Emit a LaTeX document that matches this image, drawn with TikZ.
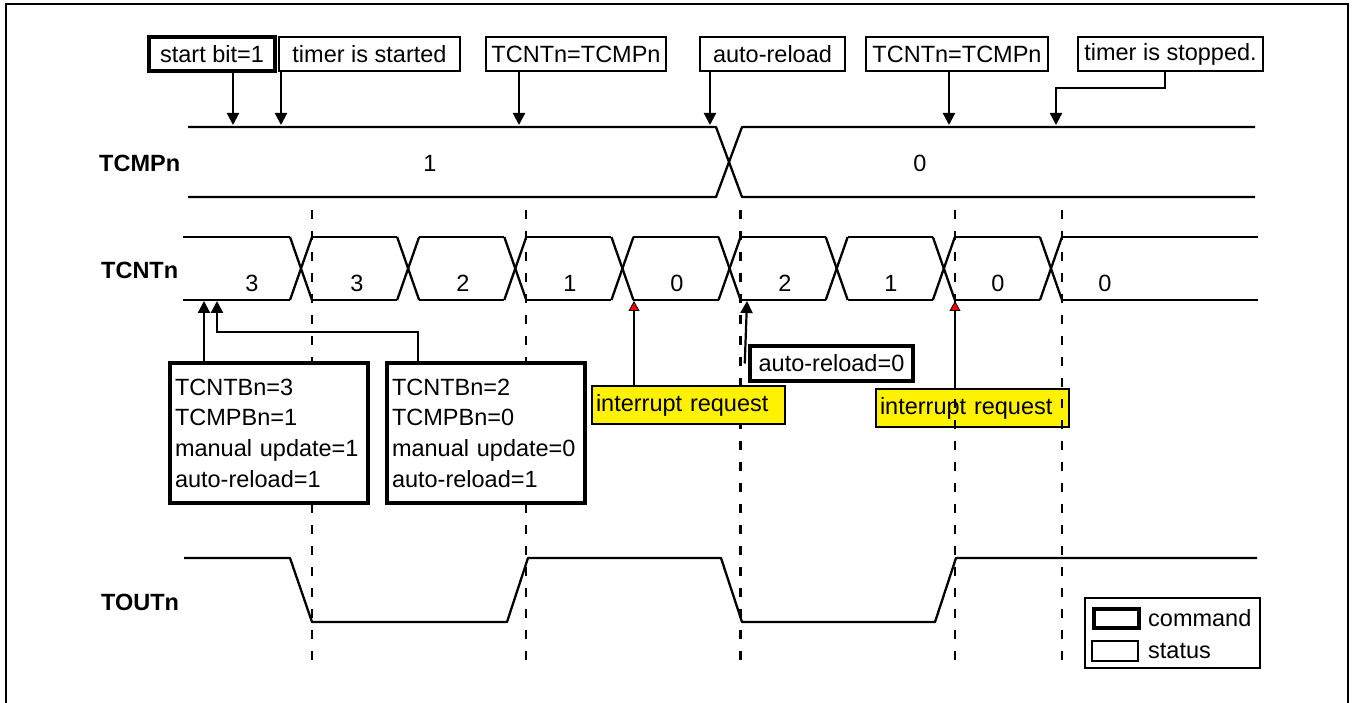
\documentclass[tikz,border=0pt]{standalone}
\usepackage{fontspec}
\setmainfont{Liberation Sans}
\usetikzlibrary{arrows.meta}
\begin{document}
\begin{tikzpicture}[x=1pt,y=-1pt,
  every node/.style={font=\fontsize{23.5}{30.7}\selectfont, inner sep=0pt},
  wave/.style={line width=2.3pt, line join=round},
  dsh/.style={line width=2.4pt, dash pattern=on 9pt off 12pt},
  cmdbox/.style={draw, line width=4.5pt, fill=white},
  statbox/.style={draw, line width=2pt, fill=white},
  irqbox/.style={draw, line width=2pt, fill=yellow},
  arr/.style={line width=2.2pt, -{Triangle[length=12pt,width=12pt]}},
  redarr/.style={line width=2.2pt, -{Triangle[length=10pt,width=11pt,line width=0.8pt,fill=red]}},
  lbl/.style={font=\fontsize{23.5}{28}\selectfont\bfseries, anchor=west}]
\useasboundingbox (0,0) rectangle (1355,703);
\draw[line width=2.4pt] (6,703) -- (6,4) -- (1348,4) -- (1348,703);

% ---- signal labels
\node[lbl] (lcmp) at (99,163) {TCMPn};
\node[lbl] (lcnt) at (101,270) {TCNTn};
\node[lbl] (lout) at (101,602) {TOUTn};

% ---- TCMPn
\draw[wave] (188,127) -- (716,127) -- (742,197) -- (1255,197);
\draw[wave] (188,197) -- (716,197) -- (742,127) -- (1255,127);
\node (m1) at (430,163) {1};
\node (m0) at (920,163) {0};

% ---- TCNTn
\foreach \k in {0,...,7} {
  \pgfmathsetmacro\c{301+107.14*\k}
  \draw[wave] (\c-11,237) -- (\c+11,300);
  \draw[wave] (\c-11,300) -- (\c+11,237);
}
\draw[wave] (183,237) -- (290,237) (183,300) -- (290,300);
\foreach \k in {0,...,6} {
  \pgfmathsetmacro\a{301+107.14*\k+11}
  \pgfmathsetmacro\b{301+107.14*(\k+1)-11}
  \draw[wave] (\a,237) -- (\b,237) (\a,300) -- (\b,300);
}
\draw[wave] (1062,237) -- (1258,237) (1062,300) -- (1258,300);
\foreach \x/\v [count=\i] in {252/3,357/3,463/2,570/1,677/0,785/2,891/1,998/0,1105/0}
  \node (v\i) at (\x,283) {\v};

% ---- TOUTn
\draw[wave] (184,558) -- (290,558) -- (312,622) -- (507,622) -- (528,558)
  -- (721,558) -- (742,622) -- (935,622) -- (956,558) -- (1257,558);

% ---- yellow box drawn below the guide lines
\node[irqbox, minimum width=193pt, minimum height=38pt, text width=185pt, inner xsep=4pt, align=left] (ir2) at (972.5,408) {interrupt request};

% ---- dashed guide lines
\foreach \k in {0,2,4,6,7}
  \draw[dsh] (301+107.14*\k+11,210) -- (301+107.14*\k+11,668);

\node[irqbox, minimum width=193pt, minimum height=38pt, text width=185pt, inner xsep=4pt, align=left] (ir1) at (688.5,405) {interrupt request};

% ---- top boxes
\node[cmdbox, minimum width=126pt, minimum height=34pt] (sb) at (212,54) {start bit=1};
\node[statbox, minimum width=181pt, minimum height=34pt] (ts) at (369.5,54) {timer is started};
\node[statbox, minimum width=180pt, minimum height=34pt] (eq1) at (576,54) {TCNTn=TCMPn};
\node[statbox, minimum width=145pt, minimum height=34pt] (ar) at (772.5,54) {auto-reload};
\node[statbox, minimum width=182pt, minimum height=34pt] (eq2) at (957,54) {TCNTn=TCMPn};
\node[statbox, minimum width=185pt, minimum height=34pt] (tst) at (1170.5,54) {timer is stopped.};

\coordinate (a1) at (233,125);
\coordinate (a2) at (281,125);
\coordinate (a3) at (519,125);
\coordinate (a4) at (710,125);
\coordinate (a5) at (949,125);
\coordinate (a6) at (1056,125);
\coordinate (e6) at (1165,88);
\draw[arr] (sb.south -| a1) -- (a1);
\draw[arr] (ts.south -| a2) -- (a2);
\draw[arr] (eq1.south -| a3) -- (a3);
\draw[arr] (ar.south -| a4) -- (a4);
\draw[arr] (eq2.south -| a5) -- (a5);
\draw[arr] (tst.south -| e6) -- (e6) -| (a6);

% ---- command boxes
\node[cmdbox, minimum width=198pt, minimum height=140pt, text width=188pt, inner xsep=5pt, align=left] (b1) at (269,433)
  {TCNTBn=3\\TCMPBn=1\\manual update=1\\auto-reload=1};
\node[cmdbox, minimum width=198pt, minimum height=140pt, text width=188pt, inner xsep=5pt, align=left] (b2) at (486,433)
  {TCNTBn=2\\TCMPBn=0\\manual update=0\\auto-reload=1};
\node[cmdbox, minimum width=163pt, minimum height=35pt] (ar0) at (831.5,363.5) {auto-reload=0};

\coordinate (t1) at (204,301);
\coordinate (t2) at (217,301);
\coordinate (k2) at (418,332);
\coordinate (t3) at (747,301);
\coordinate (t4) at (634,301);
\coordinate (t5) at (955,301);
\draw[arr] (b1.north -| t1) -- (t1);
\draw[arr] (b2.north -| k2) -- (k2) -| (t2);
\draw[arr] ([xshift=-3pt]ar0.west) -- (t3);
\draw[redarr] (ir1.north -| t4) -- (t4);
\draw[redarr] (ir2.north -| t5) -- (t5);

% ---- legend
\node[statbox, minimum width=175pt, minimum height=70pt] (leg) at (1172.5,633) {};
\node[cmdbox, minimum width=45pt, minimum height=19pt] (swc) at (1116.5,618.5) {};
\node[statbox, minimum width=46pt, minimum height=20pt] (sws) at (1115,651) {};
\node[anchor=west] (lc) at (1148,618) {command};
\node[anchor=west] (ls) at (1148,651) {status};
\end{tikzpicture}
\end{document}
